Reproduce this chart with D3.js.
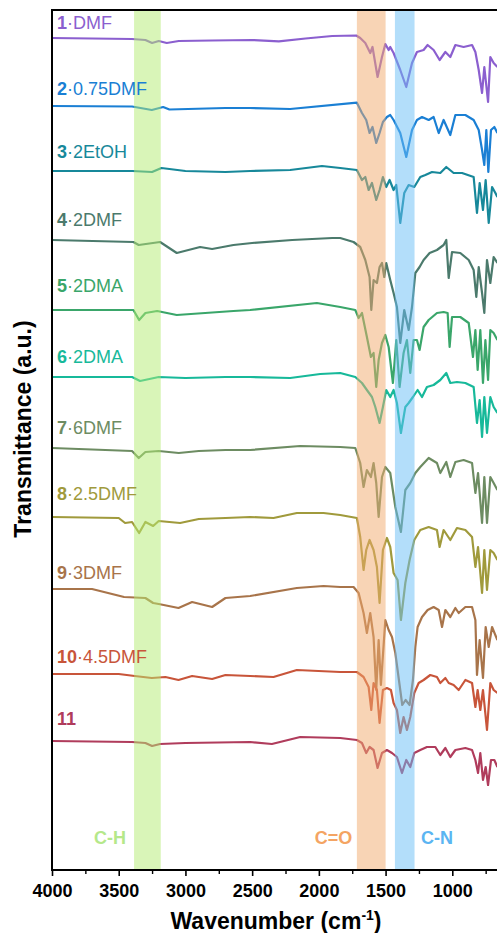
<!DOCTYPE html>
<html><head><meta charset="utf-8">
<script src="https://cdn.jsdelivr.net/npm/d3@7"></script>
<style>
html,body{margin:0;padding:0;background:#fff;}
svg{display:block;font-family:"Liberation Sans",Arial,sans-serif;}
</style></head>
<body>
<svg id="chart" width="497" height="933"></svg>
<script>
// ---- data: [wavenumber (cm-1), transmittance (a.u., offset)] ----
const sampleIds = ["1","2","3","4","5","6","7","8","9","10","11"];
const sampleNames = ["DMF","0.75DMF","2EtOH","2DMF","2DMA","2DMA","6DMF","2.5DMF","3DMF","4.5DMF",""];
const sampleColors = ["#8b5fcf","#1a7fd4","#17889a","#4b7a6c","#3aa66a","#17b99a","#6d8c62","#a09a3c","#a8744a","#c8553a","#b03c5c"];

const trace1 = [[4000,83.2],[3700,83.15],[3400,83.1],[3300,83.0],[3250,82.7],[3200,82.9],[3140,82.7],[3050,82.9],[2800,82.95],[2500,83.0],[2300,82.87],[2100,83.15],[1900,83.4],[1720,83.45],[1690,83.2],[1652,82.7],[1615,81.7],[1598,82.3],[1560,79.3],[1527,81.3],[1502,82.6],[1477,82.0],[1465,82.3],[1440,81.7],[1390,80.0],[1345,78.3],[1302,80.7],[1265,81.8],[1215,82.0],[1185,82.5],[1140,82.0],[1095,81.0],[1052,81.8],[1015,81.3],[977,82.5],[915,82.3],[852,82.5],[827,81.8],[802,80.0],[777,77.7],[760,80.3],[732,76.8],[715,81.3],[690,80.7],[662,80.3]];
const trace2 = [[4000,76.4],[3400,76.35],[3252,76.0],[3167,76.3],[3120,76.05],[2700,76.2],[2515,76.2],[2215,76.1],[1715,76.73],[1677,75.7],[1645,75.0],[1620,73.7],[1598,74.3],[1570,72.7],[1545,73.7],[1520,74.8],[1490,75.3],[1465,75.5],[1440,75.0],[1390,73.7],[1345,71.3],[1302,74.0],[1265,75.0],[1227,75.3],[1177,75.0],[1140,75.3],[1102,73.7],[1065,75.0],[1015,73.5],[977,75.5],[902,75.5],[840,75.0],[802,74.0],[777,72.0],[760,70.5],[745,74.0],[730,69.8],[710,74.0],[685,74.3],[662,73.7]];
const trace3 = [[4000,69.9],[3400,69.9],[3250,69.8],[3180,70.2],[3000,69.9],[2700,69.8],[2515,69.9],[2215,70.0],[1977,70.4],[1840,70.2],[1715,70.0],[1677,69.0],[1652,69.3],[1627,68.0],[1602,68.7],[1570,67.0],[1545,68.0],[1520,69.3],[1495,68.3],[1470,69.0],[1440,68.0],[1420,68.5],[1390,64.7],[1360,67.7],[1327,68.5],[1285,68.3],[1240,69.3],[1202,69.5],[1152,69.8],[1090,69.7],[1045,70.3],[990,69.7],[927,69.7],[840,69.3],[815,65.7],[795,68.7],[770,66.0],[750,69.0],[727,64.7],[702,68.3],[677,67.7],[662,67.3]];
const trace4 = [[4000,63.0],[3390,62.8],[3350,62.5],[3190,62.8],[3065,61.7],[2890,62.3],[2800,62.1],[2640,62.5],[2500,62.7],[2200,63.0],[1900,63.2],[1840,63.2],[1740,62.8],[1690,62.3],[1652,61.0],[1620,59.3],[1607,56.0],[1590,59.0],[1565,58.7],[1545,60.3],[1527,60.7],[1510,59.3],[1495,60.7],[1465,59.0],[1440,57.7],[1415,56.3],[1390,52.7],[1360,56.0],[1327,54.0],[1302,56.3],[1277,59.7],[1245,60.3],[1215,61.0],[1170,61.7],[1115,62.0],[1065,62.5],[1045,63.0],[1027,59.2],[1002,61.8],[940,61.7],[877,61.0],[840,60.0],[820,57.3],[802,60.3],[777,57.7],[760,55.7],[740,61.0],[715,58.7],[690,61.3],[662,60.7]];
const trace5 = [[4000,56.0],[3390,56.0],[3347,55.0],[3300,55.7],[3212,55.9],[3065,55.5],[2640,55.9],[2515,56.0],[2015,56.7],[1840,56.3],[1727,56.0],[1702,55.2],[1677,55.7],[1640,53.3],[1610,51.3],[1590,51.7],[1570,48.3],[1552,51.0],[1527,52.7],[1502,53.5],[1477,52.3],[1445,48.7],[1420,53.0],[1395,48.3],[1365,51.7],[1340,53.0],[1315,49.7],[1290,53.0],[1265,53.0],[1245,52.0],[1215,54.3],[1177,55.0],[1115,55.7],[1065,55.8],[1035,55.7],[1020,52.3],[1002,55.3],[940,55.3],[877,54.7],[845,51.3],[827,54.0],[810,50.0],[790,54.0],[770,48.7],[752,53.0],[732,49.0],[715,54.0],[690,53.7],[662,53.0]];
const trace6 = [[4000,49.3],[3400,49.3],[3340,48.9],[3200,49.3],[3000,49.2],[2700,49.3],[2515,49.3],[2215,49.2],[1990,49.6],[1840,49.7],[1727,49.3],[1677,48.7],[1640,48.0],[1602,47.3],[1577,46.3],[1545,44.7],[1520,46.3],[1495,48.0],[1465,47.3],[1440,48.0],[1415,46.7],[1385,43.7],[1352,46.3],[1327,46.7],[1295,47.3],[1260,48.0],[1227,47.3],[1190,48.3],[1140,48.5],[1090,49.0],[1045,49.7],[1015,48.7],[965,48.8],[902,48.7],[840,48.3],[815,44.7],[795,47.0],[777,43.3],[760,47.3],[740,43.7],[715,47.3],[690,46.3],[662,45.7]];
const trace7 = [[4000,42.2],[3400,41.9],[3350,41.2],[3300,41.8],[3200,41.9],[3050,41.7],[2900,41.9],[2700,42.0],[2515,42.0],[2140,42.4],[1840,42.3],[1727,42.2],[1690,40.7],[1665,38.3],[1640,40.0],[1610,39.3],[1590,40.7],[1570,38.7],[1552,35.3],[1527,39.3],[1502,40.3],[1465,39.7],[1427,36.3],[1385,33.8],[1352,38.0],[1315,38.7],[1277,39.7],[1240,40.3],[1177,41.2],[1115,40.7],[1090,39.7],[1045,40.8],[1015,39.3],[977,40.8],[915,41.0],[852,40.7],[827,37.7],[807,39.7],[777,34.7],[760,39.3],[740,34.7],[715,39.3],[690,38.7],[662,38.0]];
const trace8 = [[4000,35.3],[3500,35.2],[3452,34.7],[3400,34.8],[3347,33.7],[3300,34.8],[3242,34.4],[3200,34.9],[3040,34.7],[2900,35.1],[2700,35.2],[2515,35.3],[2340,35.2],[2165,35.7],[1965,35.7],[1840,35.5],[1715,35.2],[1690,33.3],[1665,30.0],[1645,32.0],[1620,33.0],[1590,32.0],[1565,30.3],[1545,26.7],[1520,32.0],[1490,33.2],[1465,32.3],[1440,29.7],[1410,29.0],[1385,25.0],[1352,28.7],[1320,31.0],[1285,33.0],[1240,34.0],[1177,34.3],[1115,34.0],[1095,32.3],[1065,34.0],[1015,33.0],[965,34.2],[902,34.0],[852,33.3],[827,30.3],[807,32.3],[777,27.7],[760,32.0],[740,28.0],[715,32.0],[690,31.7],[662,31.0]];
const trace9 = [[4000,28.1],[3700,28.1],[3460,27.3],[3300,27.2],[3242,26.7],[3200,26.6],[3052,26.2],[2950,26.8],[2800,26.3],[2700,27.2],[2515,27.4],[2165,28.2],[1965,28.4],[1840,28.3],[1740,28.3],[1702,27.7],[1665,25.7],[1640,23.7],[1615,25.7],[1590,23.3],[1570,18.0],[1552,23.0],[1535,18.5],[1502,25.0],[1477,24.0],[1452,23.3],[1427,21.7],[1400,19.0],[1375,16.5],[1350,17.0],[1320,16.5],[1295,19.0],[1277,22.3],[1260,24.3],[1227,25.3],[1185,26.0],[1140,26.3],[1102,26.0],[1077,24.3],[1052,26.0],[1015,25.3],[977,26.2],[952,25.7],[902,26.3],[852,26.3],[827,25.0],[815,19.5],[795,23.0],[770,19.2],[750,24.3],[727,22.3],[702,24.3],[662,23.0]];
const trace10 = [[4000,19.6],[3500,19.6],[3380,19.4],[3252,19.2],[3150,19.3],[3052,19.0],[2950,19.4],[2800,19.1],[2700,19.5],[2515,19.4],[2340,19.3],[2165,20.0],[1840,19.8],[1715,19.8],[1665,19.3],[1627,18.3],[1607,16.0],[1590,18.7],[1565,18.0],[1545,14.7],[1520,18.0],[1490,18.2],[1460,18.0],[1440,16.7],[1415,16.0],[1390,13.7],[1365,15.3],[1340,14.0],[1315,15.3],[1285,17.7],[1252,18.7],[1215,19.0],[1165,19.5],[1115,19.3],[1090,18.7],[1052,19.2],[1027,18.7],[990,18.5],[952,18.0],[902,19.0],[852,18.7],[827,16.3],[810,18.0],[790,16.0],[770,18.0],[740,14.0],[715,18.7],[690,18.0],[662,17.7]];
const trace11 = [[4000,12.9],[3400,12.8],[3300,12.7],[3250,12.4],[3190,12.6],[3000,12.7],[2515,12.8],[2352,12.6],[2140,13.3],[1840,13.2],[1715,13.0],[1677,12.7],[1645,11.7],[1620,12.3],[1590,12.0],[1560,10.2],[1527,11.7],[1490,12.0],[1452,11.7],[1415,11.3],[1377,9.7],[1345,11.0],[1315,10.3],[1285,11.7],[1240,12.0],[1190,12.3],[1127,12.3],[1090,11.5],[1052,12.2],[1015,11.3],[977,12.0],[902,12.2],[852,12.0],[827,11.0],[807,9.7],[790,11.7],[770,9.0],[750,10.3],[732,8.5],[710,11.0],[685,11.0],[662,10.3]];
const traces = [trace1,trace2,trace3,trace4,trace5,trace6,trace7,trace8,trace9,trace10,trace11];

const bandNames = ["C-H","C=O","C-N"];
const bandFrom = [3385,1715,1430];
const bandTo = [3185,1500,1283];
const bandColors = ["#b3eb71","#f1a96b","#67bdf5"];
const bandTextColors = ["#b5e88a","#f4a463","#5bb5f2"];
const bandLabelAt = [3565,1890,1115];

const xTicks = [4000,3500,3000,2500,2000,1500,1000];
const xMinorTicks = [3750,3250,2750,2250,1750,1250,750];

// ---- layout ----
const svg = d3.select("#chart");
const L = 52, R = 499, T = 10, B = 870;
const x = d3.scaleLinear().domain([4000,650]).range([L,R]);
const y = d3.scaleLinear().domain([0,86]).range([B,T]);
const labelGap = [9,11,13,14,18,14,14,17,10,11,16];
const font = '"Liberation Sans",Arial,sans-serif';

svg.append("defs").append("clipPath").attr("id","clip")
  .append("rect").attr("x",L).attr("y",T).attr("width",R-L).attr("height",B-T);

const line = d3.line().x(d=>x(d[0])).y(d=>y(d[1]));
const g = svg.append("g").attr("clip-path","url(#clip)");
traces.forEach((tr,i)=>{
  g.append("path").datum(tr).attr("d",line)
    .attr("fill","none").attr("stroke",sampleColors[i])
    .attr("stroke-width",2.2).attr("stroke-linejoin","round");
});

// bands on top, semi-transparent
bandNames.forEach((b,i)=>{
  g.append("rect").attr("x",x(bandFrom[i])).attr("y",T)
    .attr("width",x(bandTo[i])-x(bandFrom[i])).attr("height",B-T)
    .attr("fill",bandColors[i]).attr("fill-opacity",0.5);
});

// band labels
bandNames.forEach((b,i)=>{
  svg.append("text").attr("x",x(bandLabelAt[i])).attr("y",844)
    .attr("text-anchor","middle").attr("font-size",18).attr("font-weight","bold")
    .attr("fill",bandTextColors[i]).text(b);
});

// sample labels
traces.forEach((tr,i)=>{
  const t = svg.append("text").attr("x",57).attr("y",y(tr[0][1])-labelGap[i])
    .attr("font-size",18).attr("fill",sampleColors[i]);
  t.append("tspan").attr("font-weight","bold").text(sampleIds[i]);
  if (sampleNames[i]) t.append("tspan").text("\u00B7"+sampleNames[i]);
});

// axes
const xAxis = d3.axisBottom(x).tickValues(xTicks).tickSize(6).tickSizeOuter(0).tickFormat(d3.format("d"));
const ax = svg.append("g").attr("transform",`translate(0,${B})`).call(xAxis);
ax.select(".domain").remove();
ax.selectAll(".tick line").attr("stroke","#000").attr("stroke-width",1.6);
ax.selectAll(".tick text").attr("font-size",18).attr("font-weight","bold")
  .attr("font-family",font).attr("fill","#000").attr("dy",0).attr("y",27);
const axm = svg.append("g").attr("transform",`translate(0,${B})`)
  .call(d3.axisBottom(x).tickValues(xMinorTicks).tickSize(4).tickFormat(""));
axm.select(".domain").remove();
axm.selectAll(".tick line").attr("stroke","#000").attr("stroke-width",1.4);

// frame
svg.append("line").attr("x1",L).attr("x2",R).attr("y1",B).attr("y2",B).attr("stroke","#000").attr("stroke-width",2);
svg.append("line").attr("x1",L).attr("x2",L).attr("y1",T).attr("y2",B+1).attr("stroke","#000").attr("stroke-width",2);
svg.append("line").attr("x1",L-1).attr("x2",R).attr("y1",T).attr("y2",T).attr("stroke","#000").attr("stroke-width",2);

// titles
const xt = svg.append("text").attr("x",276).attr("y",929).attr("text-anchor","middle")
  .attr("font-size",23).attr("font-weight","bold").attr("fill","#000");
xt.append("tspan").text("Wavenumber (cm");
xt.append("tspan").attr("font-size",14).attr("dy",-9).text("-1");
xt.append("tspan").attr("dy",9).text(")");
svg.append("text").attr("transform","translate(31,429) rotate(-90)")
  .attr("text-anchor","middle").attr("font-size",23).attr("font-weight","bold")
  .attr("fill","#000").text("Transmittance (a.u.)");
</script>
</body></html>
